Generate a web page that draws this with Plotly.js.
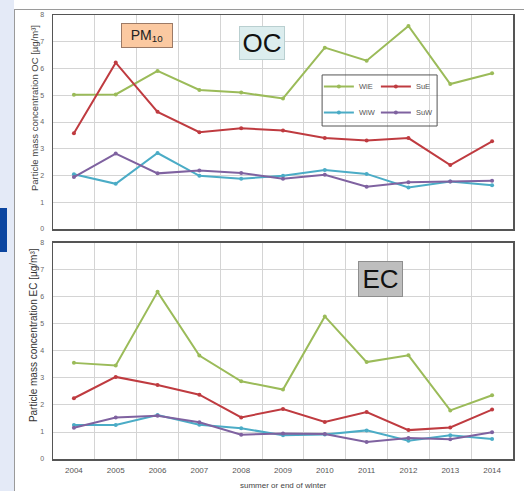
<!DOCTYPE html>
<html>
<head>
<meta charset="utf-8">
<script src="https://cdn.plot.ly/plotly-3.0.1.min.js"></script>
<style>
  html, body { margin: 0; padding: 0; background: #ffffff; }
  #wrap { position: relative; width: 524px; height: 491px; overflow: hidden; }
  #strip { position: absolute; left: 0; top: 0; width: 14px; height: 491px; background: #e4eaf7; }
  #tab { position: absolute; left: 0; top: 208px; width: 7px; height: 44px; background: #0b45a0; }
  #panelTop { position: absolute; left: 14px; top: 9px; width: 510px; height: 1px; background: #9a9a9a; }
  #panelLeft { position: absolute; left: 14px; top: 9px; width: 1px; height: 482px; background: #9a9a9a; }
  #chart { position: absolute; left: 0; top: 0; width: 524px; height: 491px; }
</style>
</head>
<body>
<div id="wrap">
  <div id="strip"></div>
  <div id="tab"></div>
  <div id="panelTop"></div>
  <div id="panelLeft"></div>
  <div id="chart"></div>
</div>
<script>
// ---- data ----
const years = ['2004','2005','2006','2007','2008','2009','2010','2011','2012','2013','2014'];
const seriesNames = ['WiE','SuE','WiW','SuW'];

// OC (top panel)
const ocWiE = [5.02, 5.03, 5.91, 5.20, 5.10, 4.88, 6.78, 6.29, 7.59, 5.42, 5.82];
const ocSuE = [3.58, 6.22, 4.38, 3.62, 3.77, 3.68, 3.40, 3.31, 3.40, 2.39, 3.28];
const ocWiW = [2.05, 1.69, 2.84, 1.99, 1.88, 1.99, 2.21, 2.06, 1.55, 1.78, 1.64];
const ocSuW = [1.94, 2.82, 2.08, 2.19, 2.09, 1.88, 2.03, 1.58, 1.75, 1.78, 1.80];

// EC (bottom panel)
const ecWiE = [3.56, 3.46, 6.19, 3.83, 2.88, 2.57, 5.28, 3.59, 3.84, 1.80, 2.36];
const ecSuE = [2.25, 3.04, 2.74, 2.38, 1.54, 1.85, 1.37, 1.74, 1.07, 1.17, 1.83];
const ecWiW = [1.26, 1.26, 1.63, 1.27, 1.14, 0.88, 0.91, 1.06, 0.68, 0.88, 0.74];
const ecSuW = [1.16, 1.54, 1.60, 1.36, 0.90, 0.94, 0.93, 0.63, 0.78, 0.73, 0.99];

const yTicks = [0,1,2,3,4,5,6,7,8];

// ---- styles ----
const colors = {WiE: '#9bbb59', SuE: '#bf3b40', WiW: '#4bacc6', SuW: '#7f62a0'};
const FONT = 'Liberation Sans, Arial, sans-serif';

function tr(name, y, xa, ya, legend, showLegend) {
  return {
    type: 'scatter', mode: 'lines+markers', name: name,
    x: years, y: y, xaxis: xa, yaxis: ya,
    line: {color: colors[name], width: 2},
    marker: {color: colors[name], size: 4},
    showlegend: showLegend, legend: legend
  };
}

const data = [
  tr('WiE', ocWiE, 'x2', 'y2', 'legend', true),
  tr('SuE', ocSuE, 'x2', 'y2', 'legend', true),
  tr('WiW', ocWiW, 'x2', 'y2', 'legend2', true),
  tr('SuW', ocSuW, 'x2', 'y2', 'legend2', true),
  tr('WiE', ecWiE, 'x', 'y', 'legend', false),
  tr('SuE', ecSuE, 'x', 'y', 'legend', false),
  tr('WiW', ecWiW, 'x', 'y', 'legend2', false),
  tr('SuW', ecSuW, 'x', 'y', 'legend2', false)
];

const xBase = {
  type: 'category', range: [-0.5, 10.5], tickson: 'boundaries', ticks: '',
  showgrid: true, gridcolor: '#d4d4d4', gridwidth: 1,
  showline: true, mirror: true, linecolor: '#555', linewidth: 1.5,
  zeroline: false, fixedrange: true, ticklabelstandoff: 3,
  tickfont: {size: 8, color: '#555', family: FONT}
};
const yBase = {
  range: [0, 8], tickvals: yTicks, ticktext: yTicks.map(String), ticks: '',
  showgrid: true, gridcolor: '#d4d4d4', gridwidth: 1,
  showline: true, mirror: true, linecolor: '#555', linewidth: 1.5,
  zeroline: false, fixedrange: true, ticklabelstandoff: 6,
  tickfont: {size: 7, color: '#666', family: FONT}
};

const legendBase = {
  orientation: 'h', xanchor: 'left', yanchor: 'top',
  bgcolor: 'rgba(0,0,0,0)', borderwidth: 0, entrywidth: 12, entrywidthmode: 'pixels',
  font: {size: 7.5, color: '#555', family: FONT}, itemclick: false, itemdoubleclick: false
};

const layout = {
  width: 524, height: 491,
  margin: {l: 53, r: 11, t: 15, b: 32, autoexpand: false},
  paper_bgcolor: 'rgba(0,0,0,0)', plot_bgcolor: '#ffffff',
  font: {family: FONT},
  xaxis: Object.assign({}, xBase, {anchor: 'y', domain: [0, 1]}),
  xaxis2: Object.assign({}, xBase, {anchor: 'y2', domain: [0, 1], matches: 'x', showticklabels: false}),
  yaxis: Object.assign({}, yBase, {anchor: 'x', domain: [0, 0.4865]}),
  yaxis2: Object.assign({}, yBase, {anchor: 'x2', domain: [0.518, 1]}),
  legend: Object.assign({}, legendBase, {x: 0.578, y: 0.8716}),
  legend2: Object.assign({}, legendBase, {x: 0.578, y: 0.813}),
  shapes: [
    {type: 'rect', xref: 'paper', yref: 'paper', x0: 0.585, x1: 0.835, y0: 0.75, y1: 0.865,
     fillcolor: 'rgba(255,255,255,0)', line: {color: '#555', width: 1}, layer: 'above'}
  ],
  annotations: [
    {xref: 'paper', yref: 'paper', x: -0.0413, y: 0.7905, xanchor: 'center', yanchor: 'middle',
     text: 'Particle mass concentration OC [µg/m³]', textangle: -90, showarrow: false,
     font: {size: 9.5, color: '#444', family: FONT}},
    {xref: 'paper', yref: 'paper', x: -0.0435, y: 0.279, xanchor: 'center', yanchor: 'middle',
     text: 'Particle mass concentration EC [µg/m³]', textangle: -90, showarrow: false,
     font: {size: 10, color: '#333', family: FONT}},
    {xref: 'paper', yref: 'paper', x: 0.5, y: -0.0608, xanchor: 'center', yanchor: 'middle',
     text: 'summer or end of winter', showarrow: false,
     font: {size: 8, color: '#444', family: FONT}},
    {xref: 'paper', yref: 'paper', x: 0.204, y: 0.953, xanchor: 'center', yanchor: 'middle',
     text: 'PM<sub>10</sub>', showarrow: false, font: {size: 14, color: '#222', family: FONT},
     bgcolor: '#fbc9a1', bordercolor: '#9c7a66', borderwidth: 1, borderpad: 2, width: 46, height: 19},
    {xref: 'paper', yref: 'paper', x: 0.455, y: 0.936, xanchor: 'center', yanchor: 'middle',
     text: 'OC', showarrow: false, font: {size: 26, color: '#111', family: FONT},
     bgcolor: '#dcedee', bordercolor: '#b9cfd0', borderwidth: 1, borderpad: 1, width: 42, height: 30},
    {xref: 'paper', yref: 'paper', x: 0.711, y: 0.4065, xanchor: 'center', yanchor: 'middle',
     text: 'EC', showarrow: false, font: {size: 26, color: '#111', family: FONT},
     bgcolor: '#bebebe', bordercolor: '#8e8e8e', borderwidth: 1, borderpad: 1, width: 41, height: 32}
  ]
};

Plotly.newPlot('chart', data, layout, {staticPlot: true, displayModeBar: false});
</script>
</body>
</html>
